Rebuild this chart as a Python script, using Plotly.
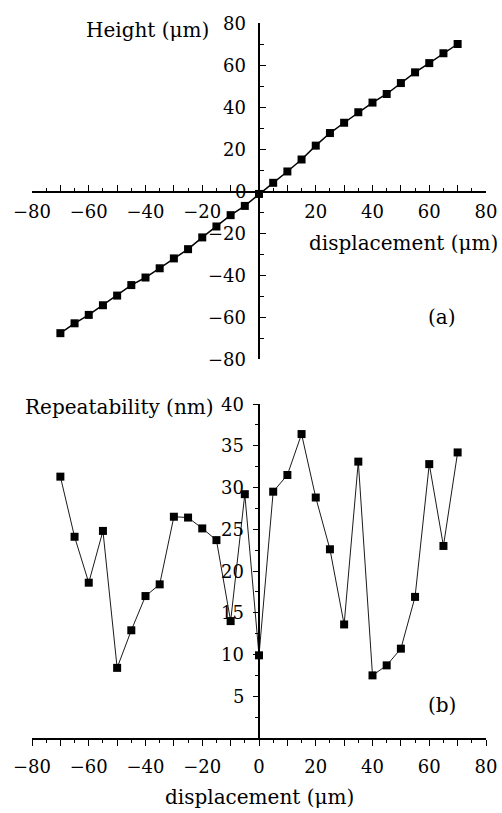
import plotly.graph_objects as go

# ---- data ----
displacement = [-70, -65, -60, -55, -50, -45, -40, -35, -30, -25, -20, -15, -10, -5,
                0, 5, 10, 15, 20, 25, 30, 35, 40, 45, 50, 55, 60, 65, 70]
height = [-67.7, -63.0, -59.0, -54.4, -49.8, -44.8, -41.2, -36.8, -32.1, -27.7,
          -22.1, -16.9, -11.5, -7.1, -1.4, 3.9, 9.3, 15.0, 21.6, 27.6,
          32.5, 37.5, 42.1, 46.2, 51.4, 56.5, 60.9, 65.6, 70.0]
repeatability = [31.3, 24.1, 18.6, 24.8, 8.4, 12.9, 17.0, 18.4, 26.5, 26.4,
                 25.1, 23.7, 14.0, 29.2, 9.9, 29.5, 31.5, 36.4, 28.8, 22.6,
                 13.6, 33.1, 7.5, 8.7, 10.7, 16.9, 32.8, 23.0, 34.2]

x_major = [-80, -70, -60, -50, -40, -30, -20, -10, 0, 10, 20, 30, 40, 50, 60, 70, 80]
x_labels_top = ["−80", "", "−60", "", "−40", "", "−20", "", "", "", "20", "", "40", "", "60", "", "80"]
x_labels_bot = ["−80", "", "−60", "", "−40", "", "−20", "", "0", "", "20", "", "40", "", "60", "", "80"]
h_ticks = [-80, -60, -40, -20, 0, 20, 40, 60, 80]
h_labels = ["−80", "−60", "−40", "−20", "0", "20", "40", "60", "80"]
r_ticks = [5, 10, 15, 20, 25, 30, 35, 40]
r_labels = ["5", "10", "15", "20", "25", "30", "35", "40"]

FONT = "DejaVu Serif"
FS = 18
FS_T = 20

fig = go.Figure()
fig.add_trace(go.Scatter(x=displacement, y=height, mode="lines+markers",
                         line=dict(color="black", width=1.5),
                         marker=dict(symbol="square", size=8, color="black"),
                         xaxis="x", yaxis="y", showlegend=False))
fig.add_trace(go.Scatter(x=displacement, y=repeatability, mode="lines+markers",
                         line=dict(color="black", width=0.9),
                         marker=dict(symbol="square", size=8, color="black"),
                         xaxis="x2", yaxis="y2", showlegend=False))

L, R, T, B = 32, 16, 23, 75
H, W = 813, 502
ph = H - T - B
top_bottom = (H - B - 359) / ph
bot_top = (H - B - 404) / ph
xpos_top = (H - B - 192) / ph

tickfont = dict(family=FONT, size=FS, color="black")

fig.update_layout(
    width=W, height=H,
    margin=dict(l=L, r=R, t=T, b=B),
    paper_bgcolor="white", plot_bgcolor="white",
    font=dict(family=FONT, size=FS, color="black"),
    xaxis=dict(domain=[0, 1], range=[-80, 80], anchor="free", position=xpos_top, automargin=False,
               showline=True, linecolor="black", linewidth=1.5, showgrid=False, zeroline=False,
               tickmode="array", tickvals=x_major, ticktext=x_labels_top, ticklabelstandoff=4,
               ticks="inside", ticklen=6, tickwidth=1.2, tickcolor="black", tickfont=tickfont,
               minor=dict(dtick=5, tick0=0, ticks="inside", ticklen=3, tickcolor="black", tickwidth=1)),
    yaxis=dict(domain=[top_bottom, 1], range=[-80, 80], anchor="free", position=0.5, automargin=False,
               showline=True, linecolor="black", linewidth=1.5, showgrid=False, zeroline=False,
               tickmode="array", tickvals=h_ticks, showticklabels=False,
               ticks="inside", ticklen=6, tickwidth=1.2, tickcolor="black",
               minor=dict(dtick=10, tick0=0, ticks="inside", ticklen=4, tickcolor="black", tickwidth=1)),
    xaxis2=dict(domain=[0, 1], range=[-80, 80], anchor="y2", automargin=False,
                showline=True, linecolor="black", linewidth=1.5, showgrid=False, zeroline=False,
                tickmode="array", tickvals=x_major, ticktext=x_labels_bot, ticklabelstandoff=6,
                ticks="outside", ticklen=6, tickwidth=1.2, tickcolor="black", tickfont=tickfont,
                minor=dict(dtick=5, tick0=0, ticks="outside", ticklen=3, tickcolor="black", tickwidth=1)),
    yaxis2=dict(domain=[0, bot_top], range=[0, 40], anchor="free", position=0.5, automargin=False,
                showline=True, linecolor="black", linewidth=1.5, showgrid=False, zeroline=False,
                tickmode="array", tickvals=r_ticks, showticklabels=False,
                ticks="outside", ticklen=5, tickwidth=1.2, tickcolor="black",
                minor=dict(dtick=2.5, tick0=0, ticks="outside", ticklen=3, tickcolor="black", tickwidth=1)),
)

def px2paper(xp, yp):
    return (xp - L) / (W - L - R), (H - B - yp) / ph

# y tick labels placed left of the vertical axes
for v, t in zip(h_ticks, h_labels):
    fig.add_annotation(text=t, x=px2paper(248, 0)[0], y=v, xref="paper", yref="y",
                       xanchor="right", yanchor="middle", showarrow=False,
                       font=tickfont)
for v, t in zip(r_ticks, r_labels):
    fig.add_annotation(text=t, x=px2paper(246, 0)[0], y=v, xref="paper", yref="y2",
                       xanchor="right", yanchor="middle", showarrow=False,
                       font=tickfont)

annots = [
    ("Height (μm)", 211, 30, "right"),
    ("displacement (μm)", 500, 243, "right"),
    ("(a)", 442, 317, "center"),
    ("Repeatability (nm)", 216, 407, "right"),
    ("(b)", 442, 705, "center"),
    ("displacement (μm)", 259, 797, "center"),
]
for text, xp, yp, al in annots:
    ax, ay = px2paper(xp, yp)
    fig.add_annotation(text=text, x=ax, y=ay, xref="paper", yref="paper",
                       xanchor=al, yanchor="middle", showarrow=False,
                       font=dict(family=FONT, size=FS_T, color="black"))

fig.write_html("out.html", config={"displayModeBar": False},
               post_script="document.body.style.margin='0';document.body.style.overflow='hidden';")
